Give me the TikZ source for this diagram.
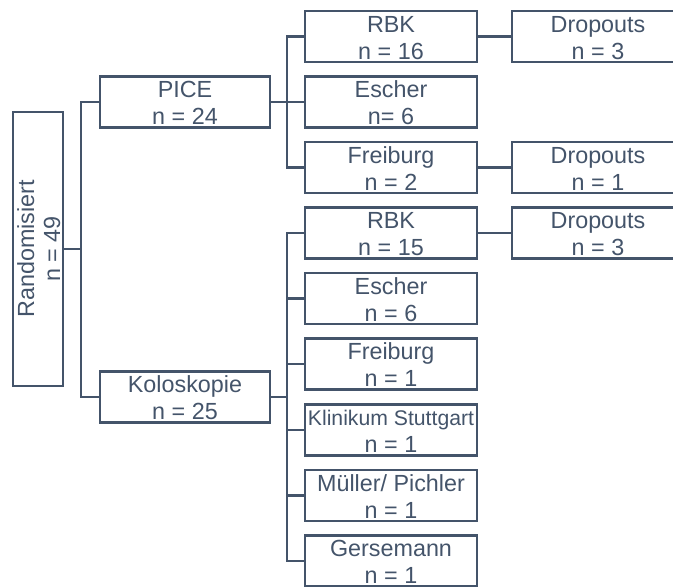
\documentclass[tikz,border=0pt]{standalone}
\usepackage{fontspec}
\setmainfont{Liberation Sans}
\definecolor{slate}{HTML}{44546A}
\newcommand{\bx}[6]{%
  \node[#6] (#1) at (#2,#3) {};
  \node[txt] at (#2,#3-4.5) {#4};
  \node[txt] at (#2,#3+22.5) {#5};
}
\begin{document}
\begin{tikzpicture}[x=0.75pt,y=-0.75pt,
  ln/.style={draw=slate,line width=1.7pt},
  boxA/.style={draw=slate,line width=1.7pt,rectangle,inner sep=0pt,minimum width=127.5pt,minimum height=38.25pt},
  boxB/.style={draw=slate,line width=1.7pt,rectangle,inner sep=0pt,minimum width=129pt,minimum height=38.25pt},
  txt/.style={anchor=base,inner sep=0pt,text=slate,font=\fontsize{17.5pt}{21pt}\selectfont},
  small/.style={anchor=base,inner sep=0pt,text=slate,font=\fontsize{15.9pt}{19pt}\selectfont}]
\useasboundingbox (0,0) rectangle (673,586);
% root
\node[draw=slate,line width=1.7pt,rectangle,inner sep=0pt,minimum width=37.5pt,minimum height=205.5pt] (R) at (38,249) {};
\node[txt,rotate=90] at (34,249) {Randomisiert};
\node[txt,rotate=90] at (60,249) {n = 49};
% level 1
\bx{PICE}{185}{102}{PICE}{n = 24}{boxA}
\bx{KOLO}{185}{397}{Koloskopie}{n = 25}{boxA}
% PICE children
\bx{P1}{391}{36.5}{RBK}{n = 16}{boxB}
\bx{P2}{391}{102}{Escher}{n= 6}{boxB}
\bx{P3}{391}{167.5}{Freiburg}{n = 2}{boxB}
% Koloskopie children
\bx{K1}{391}{233}{RBK}{n = 15}{boxB}
\bx{K2}{391}{298.5}{Escher}{n = 6}{boxB}
\bx{K3}{391}{364}{Freiburg}{n = 1}{boxB}
\node[boxB] (K4) at (391,430) {};
\node[small] at (391,425.5) {Klinikum Stuttgart};
\node[txt] at (391,452.5) {n = 1};
\bx{K5}{391}{495.5}{Müller/ Pichler}{n = 1}{boxB}
\bx{K6}{391}{561}{Gersemann}{n = 1}{boxB}
% dropouts
\bx{D1}{598}{36.5}{Dropouts}{n = 3}{boxB}
\bx{D2}{598}{167.5}{Dropouts}{n = 1}{boxB}
\bx{D3}{598}{233}{Dropouts}{n = 3}{boxB}
% junctions
\coordinate (j1) at (81,249);
\coordinate (j2) at (287,102);
\coordinate (j3) at (287,397);
% connectors
\draw[ln] (R.east) -- (j1);
\draw[ln] (PICE.west) -| (j1) |- (KOLO.west);
\draw[ln] (PICE.east) -- (j2);
\draw[ln] (P1.west) -| (j2) |- (P3.west);
\draw[ln] (P2.west) -- (P2.west -| j2);
\draw[ln] (KOLO.east) -- (j3);
\draw[ln] (K1.west) -| (j3) |- (K6.west);
\draw[ln] (K2.west) -- (K2.west -| j3);
\draw[ln] (K3.west) -- (K3.west -| j3);
\draw[ln] (K4.west) -- (K4.west -| j3);
\draw[ln] (K5.west) -- (K5.west -| j3);
\draw[ln] (P1.east) -- (D1.west);
\draw[ln] (P3.east) -- (D2.west);
\draw[ln] (K1.east) -- (D3.west);
\end{tikzpicture}
\end{document}
